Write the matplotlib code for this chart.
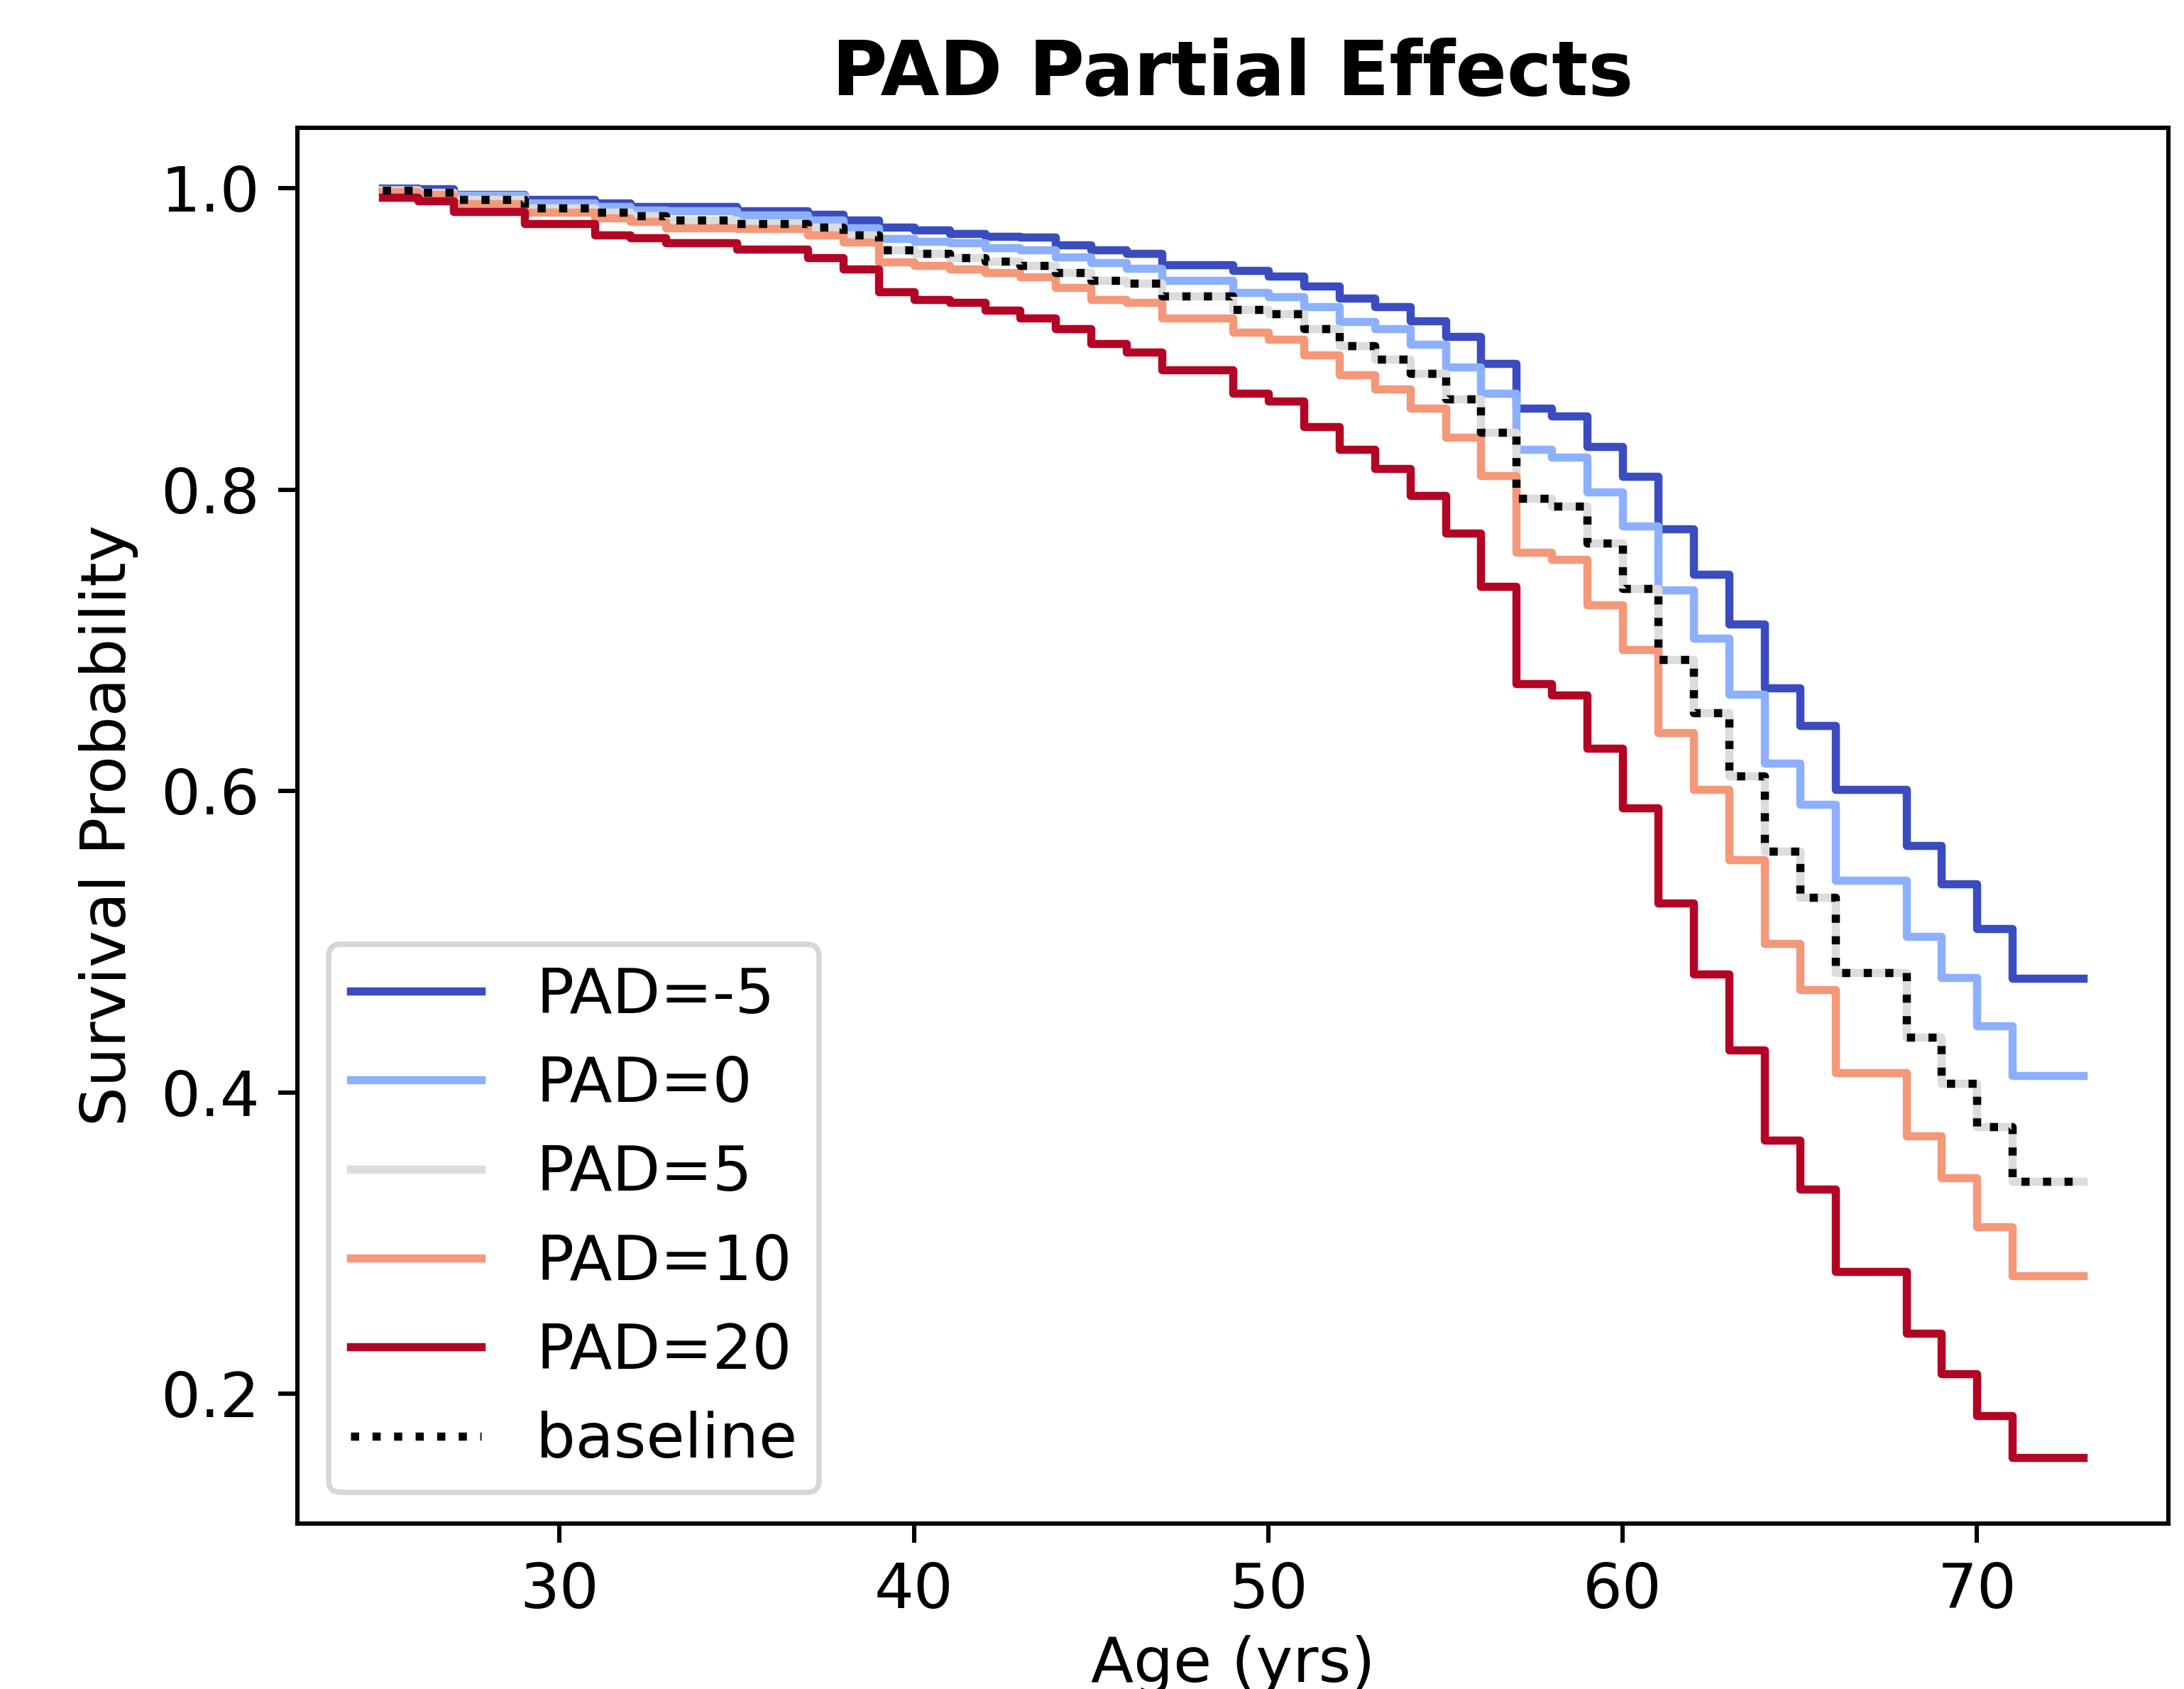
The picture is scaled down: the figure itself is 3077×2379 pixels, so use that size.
import numpy as np
import matplotlib
matplotlib.use('Agg')
import matplotlib.pyplot as plt
import matplotlib as mpl

# Configurations
mpl.rcParams['font.family'] = 'DejaVu Sans'
mpl.rcParams['font.size'] = 11.5
mpl.rcParams['lines.linewidth'] = 1.5

###################### data ##########
age = [25, 26, 27, 29, 31, 32, 33, 35, 37, 38, 39, 40, 41, 42, 43, 44, 45, 46, 47,
       49, 50, 51, 52, 53, 54, 55, 56, 57, 58, 59, 60, 61, 62, 63, 64, 65, 66,
       68, 69, 70, 71, 73]

pad_m5 = [0.9998, 0.9997, 0.9955, 0.9926, 0.9901, 0.9878, 0.9876, 0.9851, 0.9827, 0.9786,
          0.9740, 0.9722, 0.9700, 0.9678, 0.9676, 0.9623, 0.9589, 0.9564, 0.9490,
          0.9451, 0.9415, 0.9349, 0.9270, 0.9212, 0.9120, 0.9013, 0.8837, 0.8540, 0.8489,
          0.8286, 0.8089, 0.7737, 0.7437, 0.7108, 0.6685, 0.6432, 0.6009,
          0.5639, 0.5385, 0.5088, 0.4757, 0.4757]

pad_0 = [0.9990, 0.9972, 0.9952, 0.9903, 0.9878, 0.9852, 0.9851, 0.9823, 0.9788, 0.9737,
         0.9663, 0.9645, 0.9636, 0.9604, 0.9590, 0.9543, 0.9506, 0.9467, 0.9388,
         0.9309, 0.9278, 0.9215, 0.9113, 0.9066, 0.8963, 0.8813, 0.8637, 0.8264, 0.8216,
         0.7986, 0.7759, 0.7336, 0.7012, 0.6640, 0.6184, 0.5910, 0.5408,
         0.5035, 0.4764, 0.4443, 0.4110, 0.4110]

pad_5 = [0.9984, 0.9972, 0.9924, 0.9868, 0.9838, 0.9818, 0.9788, 0.9765, 0.9739, 0.9691,
         0.9590, 0.9564, 0.9537, 0.9514, 0.9487, 0.9437, 0.9388, 0.9368, 0.9286,
         0.9192, 0.9168, 0.9066, 0.8955, 0.8863, 0.8769, 0.8602, 0.8378, 0.7940, 0.7891,
         0.7643, 0.7345, 0.6870, 0.6518, 0.6102, 0.5600, 0.5292, 0.4797,
         0.4367, 0.4060, 0.3773, 0.3409, 0.3409]

pad_10 = [0.9976, 0.9956, 0.9898, 0.9840, 0.9801, 0.9777, 0.9736, 0.9731, 0.9691, 0.9644,
          0.9510, 0.9487, 0.9463, 0.9440, 0.9412, 0.9342, 0.9262, 0.9239, 0.9137,
          0.9043, 0.8996, 0.8894, 0.8762, 0.8665, 0.8540, 0.8345, 0.8094, 0.7583, 0.7534,
          0.7237, 0.6940, 0.6385, 0.6009, 0.5544, 0.4990, 0.4681, 0.4129,
          0.3713, 0.3435, 0.3111, 0.2782, 0.2782]

pad_20 = [0.9937, 0.9914, 0.9842, 0.9765, 0.9690, 0.9672, 0.9639, 0.9594, 0.9537, 0.9462,
          0.9310, 0.9261, 0.9239, 0.9190, 0.9138, 0.9066, 0.8969, 0.8912, 0.8792,
          0.8640, 0.8588, 0.8415, 0.8266, 0.8138, 0.7960, 0.7710, 0.7358, 0.6710, 0.6637,
          0.6283, 0.5887, 0.5257, 0.4784, 0.4282, 0.3682, 0.3357, 0.2810,
          0.2404, 0.2133, 0.1856, 0.1577, 0.1577]

# baseline sits right on top of the PAD=5 curve
baseline = [0.9984, 0.9972, 0.9924, 0.9868, 0.9838, 0.9818, 0.9788, 0.9765, 0.9739, 0.9691,
            0.9590, 0.9564, 0.9537, 0.9514, 0.9487, 0.9437, 0.9388, 0.9368, 0.9286,
            0.9192, 0.9168, 0.9066, 0.8955, 0.8863, 0.8769, 0.8602, 0.8378, 0.7940, 0.7891,
            0.7643, 0.7345, 0.6870, 0.6518, 0.6102, 0.5600, 0.5292, 0.4797,
            0.4367, 0.4060, 0.3773, 0.3409, 0.3409]

labels = ['PAD=-5', 'PAD=0', 'PAD=5', 'PAD=10', 'PAD=20']
curves = [pad_m5, pad_0, pad_5, pad_10, pad_20]

###################### plot ##################################
W, H = 3077, 2379
dpi = 550
fig = plt.figure(figsize=(W / dpi, H / dpi), dpi=dpi)
ax = fig.add_axes([419 / W, 1 - 2146 / H, (3055 - 419) / W, (2146 - 180) / H])

colors = plt.cm.coolwarm(np.linspace(0, 1, len(curves)))
for lab, c, col in zip(labels, curves, colors):
    ax.step(age, c, where='post', color=col, label=lab)
ax.step(age, baseline, where='post', color='k', ls=':', label='baseline')

ax.set_xlim(22.6, 75.4)
ax.set_ylim(0.114, 1.040)
# the reference crops the bottom of the x label, keep it that way
ax.set_xlabel('Age (yrs)', labelpad=2.5)
ax.set_ylabel('Survival Probability')
ax.set_title('PAD Partial Effects', fontweight='bold', fontsize=14)
ax.legend(loc='lower left', handlelength=2.1, handletextpad=0.88,
          borderpad=0.35, labelspacing=0.47)

fig.savefig('out.png', dpi=dpi)
